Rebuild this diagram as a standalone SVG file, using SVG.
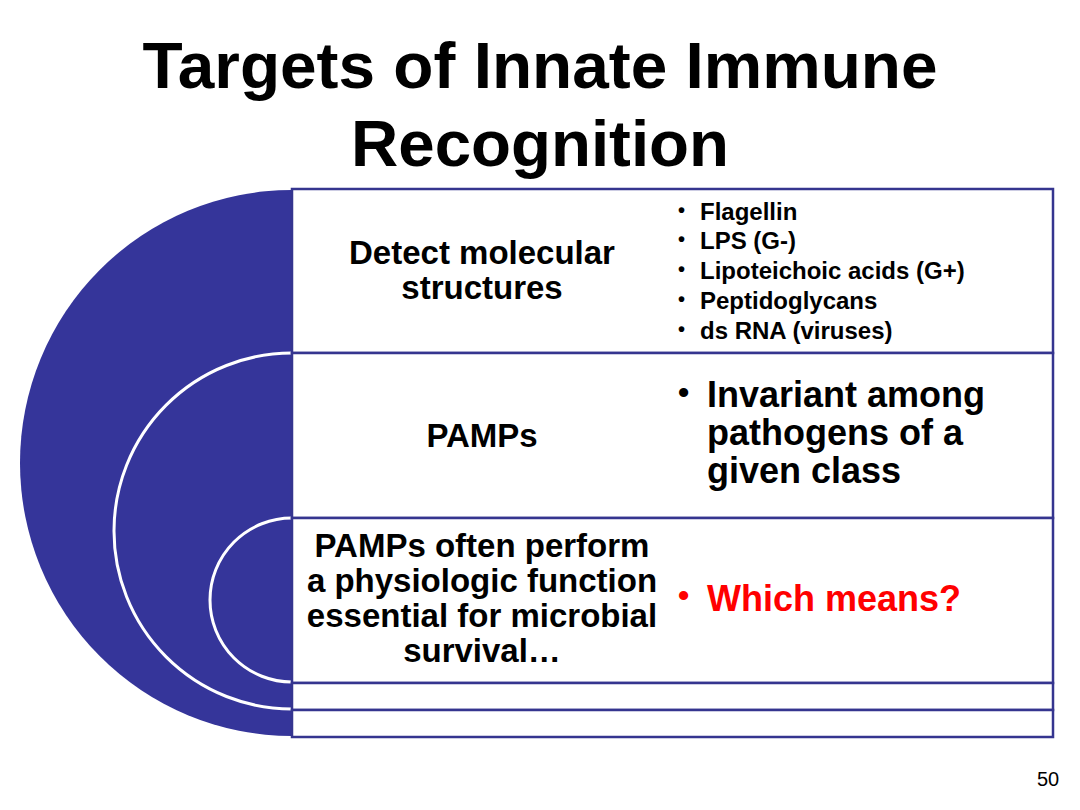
<svg xmlns="http://www.w3.org/2000/svg" width="1080" height="810" viewBox="0 0 1080 810">
<style>
.t{font-family:"Liberation Sans",Arial,sans-serif;font-weight:bold;fill:#000}
.c{text-anchor:middle}
.box{fill:#fff;stroke:#35358f;stroke-width:2.5}
.arc{fill:none;stroke:#fff;stroke-width:3}
</style>
<rect width="1080" height="810" fill="#fff"/>
<g id="title">
<text class="t c" x="540" y="88" font-size="64" textLength="795" lengthAdjust="spacingAndGlyphs">Targets of Innate Immune</text>
<text class="t c" x="540" y="166" font-size="64" textLength="378" lengthAdjust="spacingAndGlyphs">Recognition</text>
</g>
<g id="circle">
<path d="M292,190 A272,273 0 0 0 292,736 Z" fill="#35359a"/>
<path class="arc" d="M292,353 A178,178 0 0 0 292,709"/>
<path class="arc" d="M292,518 A82,82 0 0 0 292,682"/>
</g>
<g id="row1">
<rect class="box" x="292" y="189" width="761" height="164"/>
<text class="t c" x="482" y="264" font-size="33">Detect molecular</text>
<text class="t c" x="482" y="299" font-size="33">structures</text>
<g font-size="24" class="t">
<text x="678" y="217" font-size="20">•</text><text x="700" y="220">Flagellin</text>
<text x="678" y="246" font-size="20">•</text><text x="700" y="249">LPS (G-)</text>
<text x="678" y="276" font-size="20">•</text><text x="700" y="279">Lipoteichoic acids (G+)</text>
<text x="678" y="306" font-size="20">•</text><text x="700" y="309">Peptidoglycans</text>
<text x="678" y="336" font-size="20">•</text><text x="700" y="339">ds RNA (viruses)</text>
</g>
</g>
<g id="row2">
<rect class="box" x="292" y="353" width="761" height="165"/>
<text class="t c" x="482" y="447" font-size="33">PAMPs</text>
<g class="t" font-size="36">
<text x="678" y="403" font-size="32">•</text>
<text x="707" y="407">Invariant among</text>
<text x="707" y="445">pathogens of a</text>
<text x="707" y="483">given class</text>
</g>
</g>
<g id="row3">
<rect class="box" x="292" y="518" width="761" height="165"/>
<g class="t c" font-size="33">
<text x="482" y="557">PAMPs often perform</text>
<text x="482" y="592">a physiologic function</text>
<text x="482" y="627">essential for microbial</text>
<text x="482" y="662">survival…</text>
</g>
<text class="t" x="678" y="606" font-size="32" style="fill:#ff0000">•</text>
<text class="t" x="707" y="611" font-size="36" style="fill:#ff0000">Which means?</text>
</g>
<g id="row4"><rect class="box" x="292" y="683" width="761" height="27"/></g>
<g id="row5"><rect class="box" x="292" y="710" width="761" height="27"/></g>
<g id="connectors"></g>
<text x="1048" y="786" font-family="Liberation Sans,Arial,sans-serif" font-size="20" text-anchor="middle">50</text>
</svg>
